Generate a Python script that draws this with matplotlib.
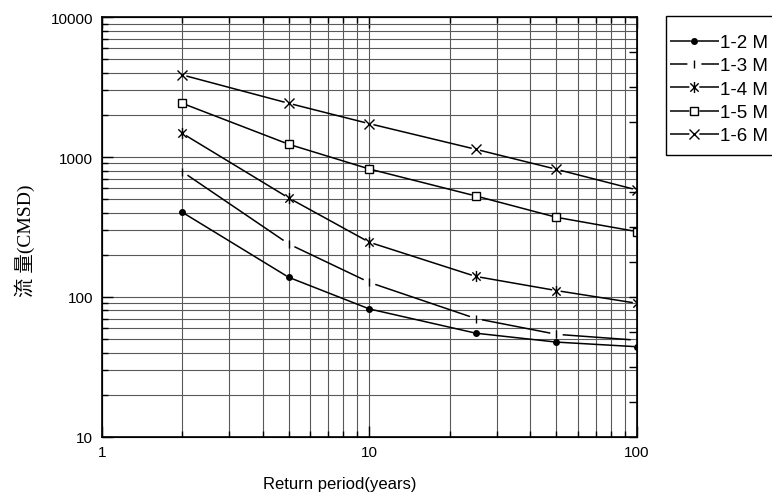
import numpy as np
import matplotlib
matplotlib.use('Agg')
import matplotlib.pyplot as plt
from matplotlib.lines import Line2D
from matplotlib.patches import Rectangle
from matplotlib.path import Path
from matplotlib.ticker import NullLocator, LogLocator, NullFormatter

plt.rcParams['font.family'] = ['Liberation Sans', 'DejaVu Sans']

periods = [2, 5, 10, 25, 50, 100]
q_12 = [403, 138, 82, 55, 47.5, 44]
q_13 = [787, 239, 127, 70, 54, 49]
q_14 = [1479, 510, 246, 140, 111, 90]
q_15 = [2425, 1235, 822, 527, 371, 293]
q_16 = [3870, 2425, 1734, 1137, 818, 582]
labels = ['1-2 M', '1-3 M', '1-4 M', '1-5 M', '1-6 M']

x_ticks = [1, 10, 100]
y_ticks = [10, 100, 1000, 10000]

star = Path([(0, -1), (0, 1), (-0.75, -0.75), (0.75, 0.75), (-0.75, 0.75), (0.75, -0.75)],
            [Path.MOVETO, Path.LINETO] * 3)

# marker, size, fill, gap (px) left around the marker on the line
styles = [
    ('o', 4, 'black', 3.5),
    ('|', 5.5, 'none', 7),
    (star, 8, 'none', 5),
    ('s', 5.5, 'white', 5),
    ('x', 7, 'none', 5),
]

fig = plt.figure(figsize=(7.72, 5.02), dpi=100)
ax = fig.add_axes([101.7 / 772, 1 - 437.7 / 502, 535.3 / 772, 419.4 / 502])
ax.set_xscale('log')
ax.set_yscale('log')
ax.set_xlim(1, 100)
ax.set_ylim(10, 10000)

ax.grid(True, which='both', color='0.35', lw=0.8)
ax.xaxis.set_minor_locator(LogLocator(base=10, subs=np.arange(2, 10)))
ax.yaxis.set_minor_locator(LogLocator(base=10, subs=np.arange(2, 10)))
ax.xaxis.set_minor_formatter(NullFormatter())
ax.yaxis.set_minor_formatter(NullFormatter())
ax.set_xticks(x_ticks, [str(v) for v in x_ticks])
ax.set_yticks(y_ticks, [str(v) for v in y_ticks])
ax.tick_params(which='both', direction='in', top=True, right=False, labelsize=11, width=1)
ax.tick_params(which='major', length=8, pad=6)
ax.tick_params(which='minor', length=4.5)
for s in ax.spines.values():
    s.set_linewidth(1.2)

ax2 = ax.twinx()
ax2.set_yscale('log')
ax2.set_ylim(10, 10000)
ax2.set_yticks(10 ** (np.arange(4, 17) / 4))
ax2.yaxis.set_minor_locator(NullLocator())
ax2.tick_params(axis='y', direction='in', length=6, width=1, labelright=False)

leg_size = 13.5
handle_len = 2.6
lw = 1.1

series = [q_12, q_13, q_14, q_15, q_16]
inv = ax.transData.inverted()
handles = []
for vals, (mk, ms, fc, gap), lab in zip(series, styles, labels):
    pts = ax.transData.transform(np.column_stack([periods, vals]))
    for p0, p1 in zip(pts[:-1], pts[1:]):
        d = p1 - p0
        u = d / np.hypot(d[0], d[1])
        a = inv.transform(p0 + u * gap)
        b = inv.transform(p1 - u * gap)
        ax.plot([a[0], b[0]], [a[1], b[1]], color='black', lw=lw)
    ax.plot(periods, vals, ls='none', marker=mk, ms=ms, mfc=fc, mec='black', mew=1)

    # legend sample: line with a gap in the middle, marker on top
    g_pt = 2 * gap * 0.72
    seg = (leg_size * handle_len - g_pt) / 2
    ln = Line2D([], [], color='black', lw=lw, dashes=(seg / lw, g_pt / lw, 100, 0))
    mk_only = Line2D([], [], ls='none', marker=mk, ms=ms, mfc=fc, mec='black', mew=1)
    handles.append((ln, mk_only))

ax.set_xlabel('Return period(years)', fontsize=12)
ax.xaxis.set_label_coords((340 - 101.7) / 535.3, (437.7 - 477) / 419.4)
ax.set_ylabel('流 量(CMSD)', fontsize=14, family=['Liberation Serif', 'Noto Sans CJK TC'])
ax.yaxis.set_label_coords((35 - 101.7) / 535.3, (437.7 - 241) / 419.4)

fig.patches.append(Rectangle((666 / 772, 1 - 156 / 502), 120 / 772, 139 / 502,
                             transform=fig.transFigure, fill=False, edgecolor='black', lw=1))
fig.legend(handles=handles, labels=labels, loc='upper left',
           bbox_to_anchor=(670 / 772, 1 - 35 / 502),
           frameon=False, borderpad=0, borderaxespad=0, fontsize=leg_size,
           handlelength=handle_len, handletextpad=0.08, labelspacing=0.33)

fig.savefig('out.png', dpi=100)
